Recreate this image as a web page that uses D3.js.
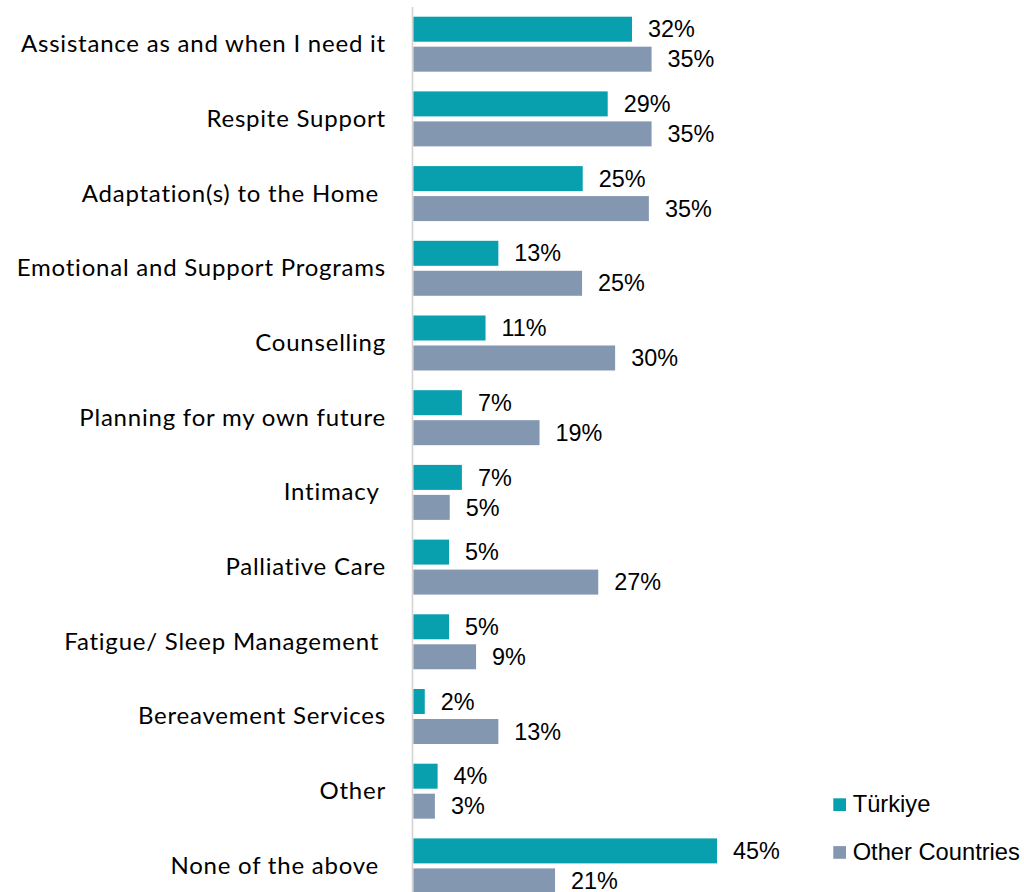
<!DOCTYPE html>
<html>
<head>
<meta charset="utf-8">
<script src="https://cdn.jsdelivr.net/npm/d3@7"></script>
<style>
  html, body { margin: 0; padding: 0; background: #fff; }
  svg { display: block; }
</style>
</head>
<body>
<svg id="chart" width="1024" height="892"></svg>
<script>
// ---- data ----
const categories = [
  "Assistance as and when I need it",
  "Respite Support",
  "Adaptation(s) to the Home ",
  "Emotional and Support Programs",
  "Counselling",
  "Planning for my own future",
  "Intimacy ",
  "Palliative Care",
  "Fatigue/ Sleep Management ",
  "Bereavement Services",
  "Other",
  "None of the above "
];
const seriesNames = ["Türkiye", "Other Countries"];
const turkiye = [32.4, 28.8, 25.1, 12.6, 10.7, 7.2, 7.2, 5.3, 5.3, 1.7, 3.6, 45.0];
const otherCountries = [35.3, 35.3, 34.9, 25.0, 29.9, 18.7, 5.4, 27.4, 9.3, 12.6, 3.2, 21.0];
const colors = ["#08A0AF", "#8497B0"];

// ---- layout ----
const svg = d3.select("#chart");
const axisX = 412.5;
const barX0 = 413.3;
const pxPerPct = 6.75;

const x = d3.scaleLinear().domain([0, 100]).range([barX0, barX0 + 100 * pxPerPct]);

const step = 74.7;
const pi = 0.264, po = 0.132;
const y0 = 16.7 - po * step;
const y = d3.scaleBand().domain(categories)
  .range([y0, y0 + categories.length * step])
  .paddingInner(pi).paddingOuter(po);

const ySub = d3.scaleBand().domain(seriesNames)
  .range([0, y.bandwidth()]).paddingInner(5 / 30).paddingOuter(0);

const rows = categories.map((c, i) => ({ cat: c, vals: [turkiye[i], otherCountries[i]] }));

// bars
const g = svg.append("g");
const rowG = g.selectAll("g.row").data(rows).join("g")
  .attr("class", "row")
  .attr("transform", d => `translate(0,${y(d.cat)})`);

rowG.selectAll("rect").data(d => d.vals.map((v, j) => ({ v, s: seriesNames[j], j })))
  .join("rect")
  .attr("x", x(0))
  .attr("y", d => ySub(d.s))
  .attr("width", d => x(d.v) - x(0))
  .attr("height", ySub.bandwidth())
  .attr("fill", d => colors[d.j]);

// value labels
const fmt = d3.format(".0f");
rowG.selectAll("text.val").data(d => d.vals.map((v, j) => ({ v, s: seriesNames[j], j })))
  .join("text")
  .attr("class", "val")
  .attr("x", d => x(d.v) + 16)
  .attr("y", d => ySub(d.s) + ySub.bandwidth() / 2)
  .attr("dy", "0.35em")
  .attr("font-family", "'Liberation Sans', Arial, sans-serif")
  .attr("font-size", 23.4)
  .attr("fill", "#000")
  .text(d => fmt(d.v) + "%");

// category axis
const axis = d3.axisLeft(y).tickSize(0).tickPadding(26.5);
const axG = svg.append("g").attr("transform", `translate(${axisX},0)`).call(axis);
axG.select(".domain").attr("stroke", "#d4d4d4").attr("stroke-width", 1.6)
  .attr("d", `M0,7V892`);
axG.selectAll(".tick text")
  .attr("font-family", "Lato, 'Open Sans', sans-serif")
  .attr("font-size", 24)
  .attr("letter-spacing", "0.78px")
  .attr("fill", "#000")
  .attr("dy", "0.33em")
  .style("white-space", "pre")
  .attr("xml:space", "preserve");

// legend
const legend = svg.append("g");
const legendY = [811.7, 859.5];
seriesNames.forEach((s, i) => {
  legend.append("rect")
    .attr("x", 833.3).attr("y", legendY[i] - 13.4)
    .attr("width", 12.7).attr("height", 12.7)
    .attr("fill", colors[i]);
  legend.append("text")
    .attr("x", 852.7).attr("y", legendY[i])
    .attr("font-family", "'Liberation Sans', Arial, sans-serif")
    .attr("font-size", 23.7)
    .attr("fill", "#000")
    .text(s);
});
</script>
</body>
</html>
